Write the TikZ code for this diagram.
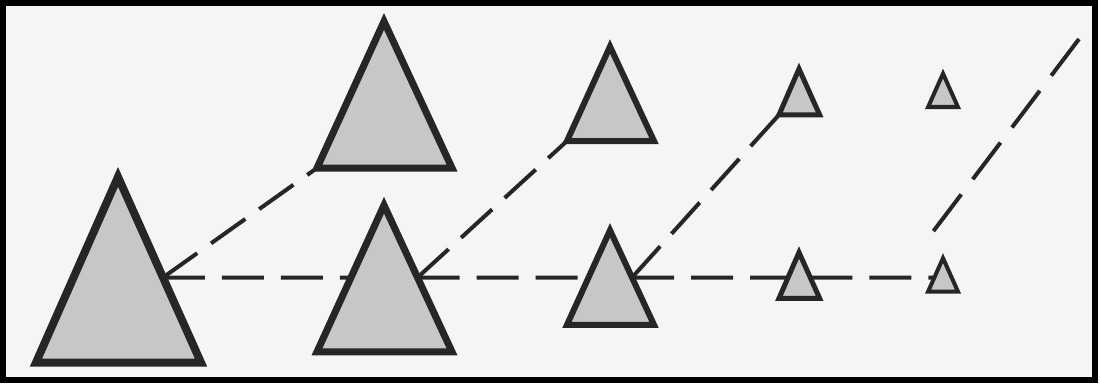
\documentclass[tikz,border=0pt]{standalone}
\tikzset{
  tri/.style={draw=black!85, fill=black!22, line join=miter},
  dashln/.style={draw=black!85, line width=2pt, dash pattern=on 21pt off 8.5pt},
  longdash/.style={dashln, dash pattern=on 23pt off 9.5pt},
  frame/.style={draw=black, line width=3pt},
}
\begin{document}
\begin{tikzpicture}[x=0.5pt,y=-0.5pt]
\useasboundingbox (0,0) rectangle (1101,385);
\fill[black!4] (3,3) rectangle (1095,380);
% triangle vertices: apex, base left, base right
\coordinate (t1a) at (118,176.9); \coordinate (t1l) at (36,362.5);  \coordinate (t1r) at (201,362.5);
\coordinate (t2a) at (384,21.4);  \coordinate (t2l) at (317,168);   \coordinate (t2r) at (452,168);
\coordinate (t3a) at (384,205.2); \coordinate (t3l) at (317,351.8); \coordinate (t3r) at (452,351.8);
\coordinate (t4a) at (610,46.5);  \coordinate (t4l) at (567,141);   \coordinate (t4r) at (654,141);
\coordinate (t5a) at (610,230.3); \coordinate (t5l) at (567,324.8); \coordinate (t5r) at (654,324.8);
\coordinate (t6a) at (799,68.9);  \coordinate (t6l) at (779,114.8); \coordinate (t6r) at (819.6,114.8);
\coordinate (t7a) at (799,252.4); \coordinate (t7l) at (779,298.3); \coordinate (t7r) at (819.6,298.3);
\coordinate (t8a) at (943,73.6);  \coordinate (t8l) at (928.1,107); \coordinate (t8r) at (957.9,107);
\coordinate (t9a) at (943,258.1); \coordinate (t9l) at (928.1,291.5); \coordinate (t9r) at (957.9,291.5);
% horizontal reference line
\coordinate (hl) at (0,277.5); \coordinate (hr) at (1101,277.5);
\coordinate (s1) at (intersection of t1a--t1r and hl--hr);
\coordinate (e3) at (intersection of t3a--t3l and hl--hr);
\coordinate (s3) at (intersection of t3a--t3r and hl--hr);
\coordinate (e5) at (intersection of t5a--t5l and hl--hr);
\coordinate (s5) at (intersection of t5a--t5r and hl--hr);
\coordinate (e7) at (intersection of t7a--t7l and hl--hr);
\coordinate (s7) at (intersection of t7a--t7r and hl--hr);
\coordinate (e9) at (intersection of t9a--t9l and hl--hr);
\coordinate (d4s) at (932,233);
\coordinate (d4e) at (1079,39);
% dashed connectors
\draw[dashln] (s1) -- (e3);
\draw[dashln] (s3) -- (e5);
\draw[dashln] (s5) -- (e7);
\draw[dashln] (s7) -- (e9);
\draw[dashln] (s1) -- (t2l);
\draw[dashln] (s3) -- (t4l);
\draw[dashln] (s5) -- (t6l);
\draw[longdash] (d4e) -- (d4s);
% triangles
\draw[tri, line width=4pt]   (t1a) -- (t1r) -- (t1l) -- cycle;
\draw[tri, line width=3.5pt] (t2a) -- (t2r) -- (t2l) -- cycle;
\draw[tri, line width=3.5pt] (t3a) -- (t3r) -- (t3l) -- cycle;
\draw[tri, line width=3pt]   (t4a) -- (t4r) -- (t4l) -- cycle;
\draw[tri, line width=3pt]   (t5a) -- (t5r) -- (t5l) -- cycle;
\draw[tri, line width=2.5pt] (t6a) -- (t6r) -- (t6l) -- cycle;
\draw[tri, line width=2.5pt] (t7a) -- (t7r) -- (t7l) -- cycle;
\draw[tri, line width=2pt]   (t8a) -- (t8r) -- (t8l) -- cycle;
\draw[tri, line width=2pt]   (t9a) -- (t9r) -- (t9l) -- cycle;
% frame
\draw[frame] (3,3) rectangle (1095,380);
\end{tikzpicture}
\end{document}
